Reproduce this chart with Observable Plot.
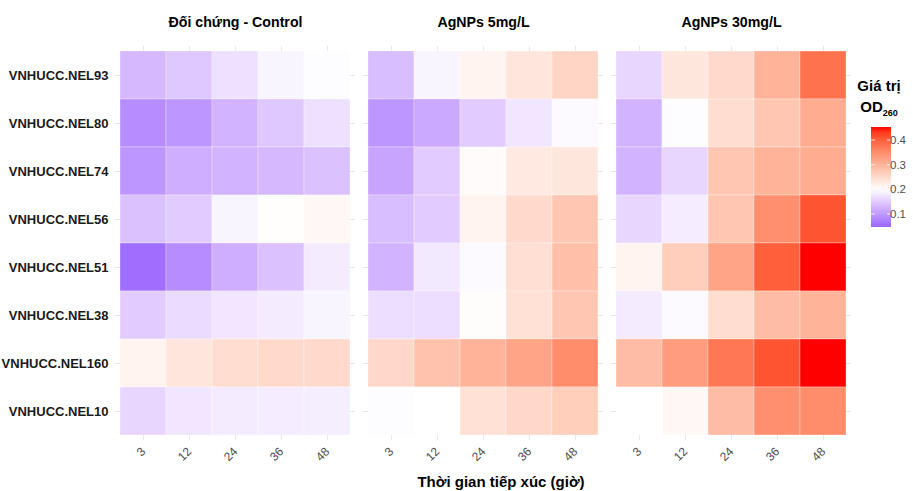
<!DOCTYPE html>
<html><head><meta charset="utf-8">
<script src="https://cdn.jsdelivr.net/npm/d3@7"></script>
<script src="https://cdn.jsdelivr.net/npm/@observablehq/plot@0.6"></script>
<style>body{margin:0;background:#fff;font-family:"Liberation Sans",Arial,sans-serif}</style>
</head><body><div id="chart"></div>
<script>
const treatments = ["Đối chứng - Control", "AgNPs 5mg/L", "AgNPs 30mg/L"];
const strains = ["VNHUCC.NEL93","VNHUCC.NEL80","VNHUCC.NEL74","VNHUCC.NEL56","VNHUCC.NEL51","VNHUCC.NEL38","VNHUCC.NEL160","VNHUCC.NEL10"];
const times = ["3","12","24","36","48"];
// rows follow strains, columns follow times
const controlValues = [
  [0.130,0.145,0.170,0.190,0.197],
  [0.085,0.095,0.125,0.145,0.170],
  [0.095,0.120,0.125,0.130,0.140],
  [0.140,0.150,0.190,0.202,0.210],
  [0.055,0.085,0.120,0.140,0.180],
  [0.150,0.165,0.175,0.180,0.190],
  [0.215,0.235,0.245,0.250,0.250],
  [0.160,0.175,0.180,0.182,0.183]
];
const ag5Values = [
  [0.135,0.190,0.215,0.235,0.255],
  [0.095,0.115,0.150,0.175,0.195],
  [0.110,0.150,0.205,0.230,0.232],
  [0.135,0.150,0.215,0.250,0.275],
  [0.125,0.178,0.195,0.243,0.285],
  [0.168,0.168,0.203,0.240,0.275],
  [0.252,0.280,0.300,0.320,0.350],
  [0.197,0.200,0.240,0.252,0.265]
];
const ag30Values = [
  [0.160,0.232,0.250,0.300,0.380],
  [0.125,0.197,0.245,0.275,0.310],
  [0.125,0.160,0.275,0.300,0.310],
  [0.160,0.182,0.275,0.345,0.410],
  [0.215,0.265,0.320,0.400,0.453],
  [0.180,0.195,0.245,0.290,0.300],
  [0.290,0.330,0.375,0.410,0.453],
  [0.200,0.210,0.290,0.345,0.350]
];
const legendTicks = [0.1, 0.2, 0.3, 0.4];
const colorDomain = [0.047, 0.2, 0.453];
const colorRange = ["#9966ff", "#ffffff", "#ff0000"];

const tables = [controlValues, ag5Values, ag30Values];
const data = [];
treatments.forEach((t, ti) => strains.forEach((s, si) => times.forEach((h, hi) => {
  data.push({treatment: t, strain: s, time: h, value: tables[ti][si][hi]});
})));

const font = '"Liberation Sans", Arial, sans-serif';
const chart = Plot.plot({
  width: 913, height: 491,
  marginLeft: 115, marginRight: 61, marginTop: 46, marginBottom: 51,
  style: {fontFamily: font, background: "white", overflow: "visible"},
  fx: {domain: treatments, paddingInner: 0.0313, paddingOuter: 0, label: null},
  x: {domain: times, paddingInner: 0, paddingOuter: 0.1, label: null},
  y: {domain: strains, paddingInner: 0, paddingOuter: 0.1, label: null},
  color: {type: "linear", domain: colorDomain, range: colorRange, interpolate: "lab"},
  marks: [
    Plot.gridX({stroke: "#e8e8e8", strokeOpacity: 1, strokeWidth: 1}),
    Plot.gridY({stroke: "#e8e8e8", strokeOpacity: 1, strokeWidth: 1}),
    Plot.cell(data, {fx: "treatment", x: "time", y: "strain", fill: "value", inset: 0, stroke: "white", strokeWidth: 0.6, strokeOpacity: 0.5}),
    Plot.axisFx({anchor: "top", tickSize: 0, tickPadding: 20, fontSize: 14.2, fontWeight: "bold", fill: "black", label: null}),
    Plot.axisY({tickSize: 0, tickPadding: 7, fontSize: 13, fontWeight: "bold", fill: "#1a1a1a", label: null}),
    Plot.axisX({tickSize: 0, tickRotate: -45, tickPadding: 9, fontSize: 12, fill: "#4d4d4d", label: null})
  ]
});
document.getElementById("chart").appendChild(chart);

const svg = d3.select(chart);
svg.append("text").attr("x", 501).attr("y", 487).attr("text-anchor", "middle")
  .attr("font-family", font).attr("font-size", 15).attr("font-weight", "bold").attr("fill", "black")
  .text("Thời gian tiếp xúc (giờ)");

// legend
const cs = d3.scaleLinear().domain(colorDomain).range(colorRange).interpolate(d3.interpolateLab);
const barTop = 127, barBottom = 227, barX = 871, barW = 20;
const ly = d3.scaleLinear().domain([colorDomain[0], colorDomain[2]]).range([barBottom, barTop]);
const defs = svg.append("defs");
const grad = defs.append("linearGradient").attr("id", "lg").attr("x1", 0).attr("y1", 1).attr("x2", 0).attr("y2", 0);
d3.range(0, 1.0001, 0.05).forEach(f => {
  const v = colorDomain[0] + f * (colorDomain[2] - colorDomain[0]);
  grad.append("stop").attr("offset", f).attr("stop-color", cs(v));
});
const lg = svg.append("g").attr("font-family", font);
lg.append("text").attr("x", 879).attr("y", 91).attr("text-anchor", "middle").attr("font-size", 15).attr("font-weight", "bold").text("Giá trị");
const od = lg.append("text").attr("x", 879).attr("y", 112).attr("text-anchor", "middle").attr("font-size", 15).attr("font-weight", "bold");
od.append("tspan").text("OD");
od.append("tspan").attr("font-size", 9).attr("dy", 4).text("260");
lg.append("rect").attr("x", barX).attr("y", barTop).attr("width", barW).attr("height", barBottom - barTop).attr("fill", "url(#lg)");
legendTicks.forEach(t => {
  lg.append("line").attr("x1", barX).attr("x2", barX + 4).attr("y1", ly(t)).attr("y2", ly(t)).attr("stroke", "white").attr("stroke-width", 0.8);
  lg.append("line").attr("x1", barX + barW - 4).attr("x2", barX + barW).attr("y1", ly(t)).attr("y2", ly(t)).attr("stroke", "white").attr("stroke-width", 0.8);
  lg.append("text").attr("x", barX + barW + 7).attr("y", ly(t)).attr("dy", "0.35em").attr("font-size", 11.5).attr("fill", "#4d4d4d").text(t.toFixed(1));
});
</script></body></html>
